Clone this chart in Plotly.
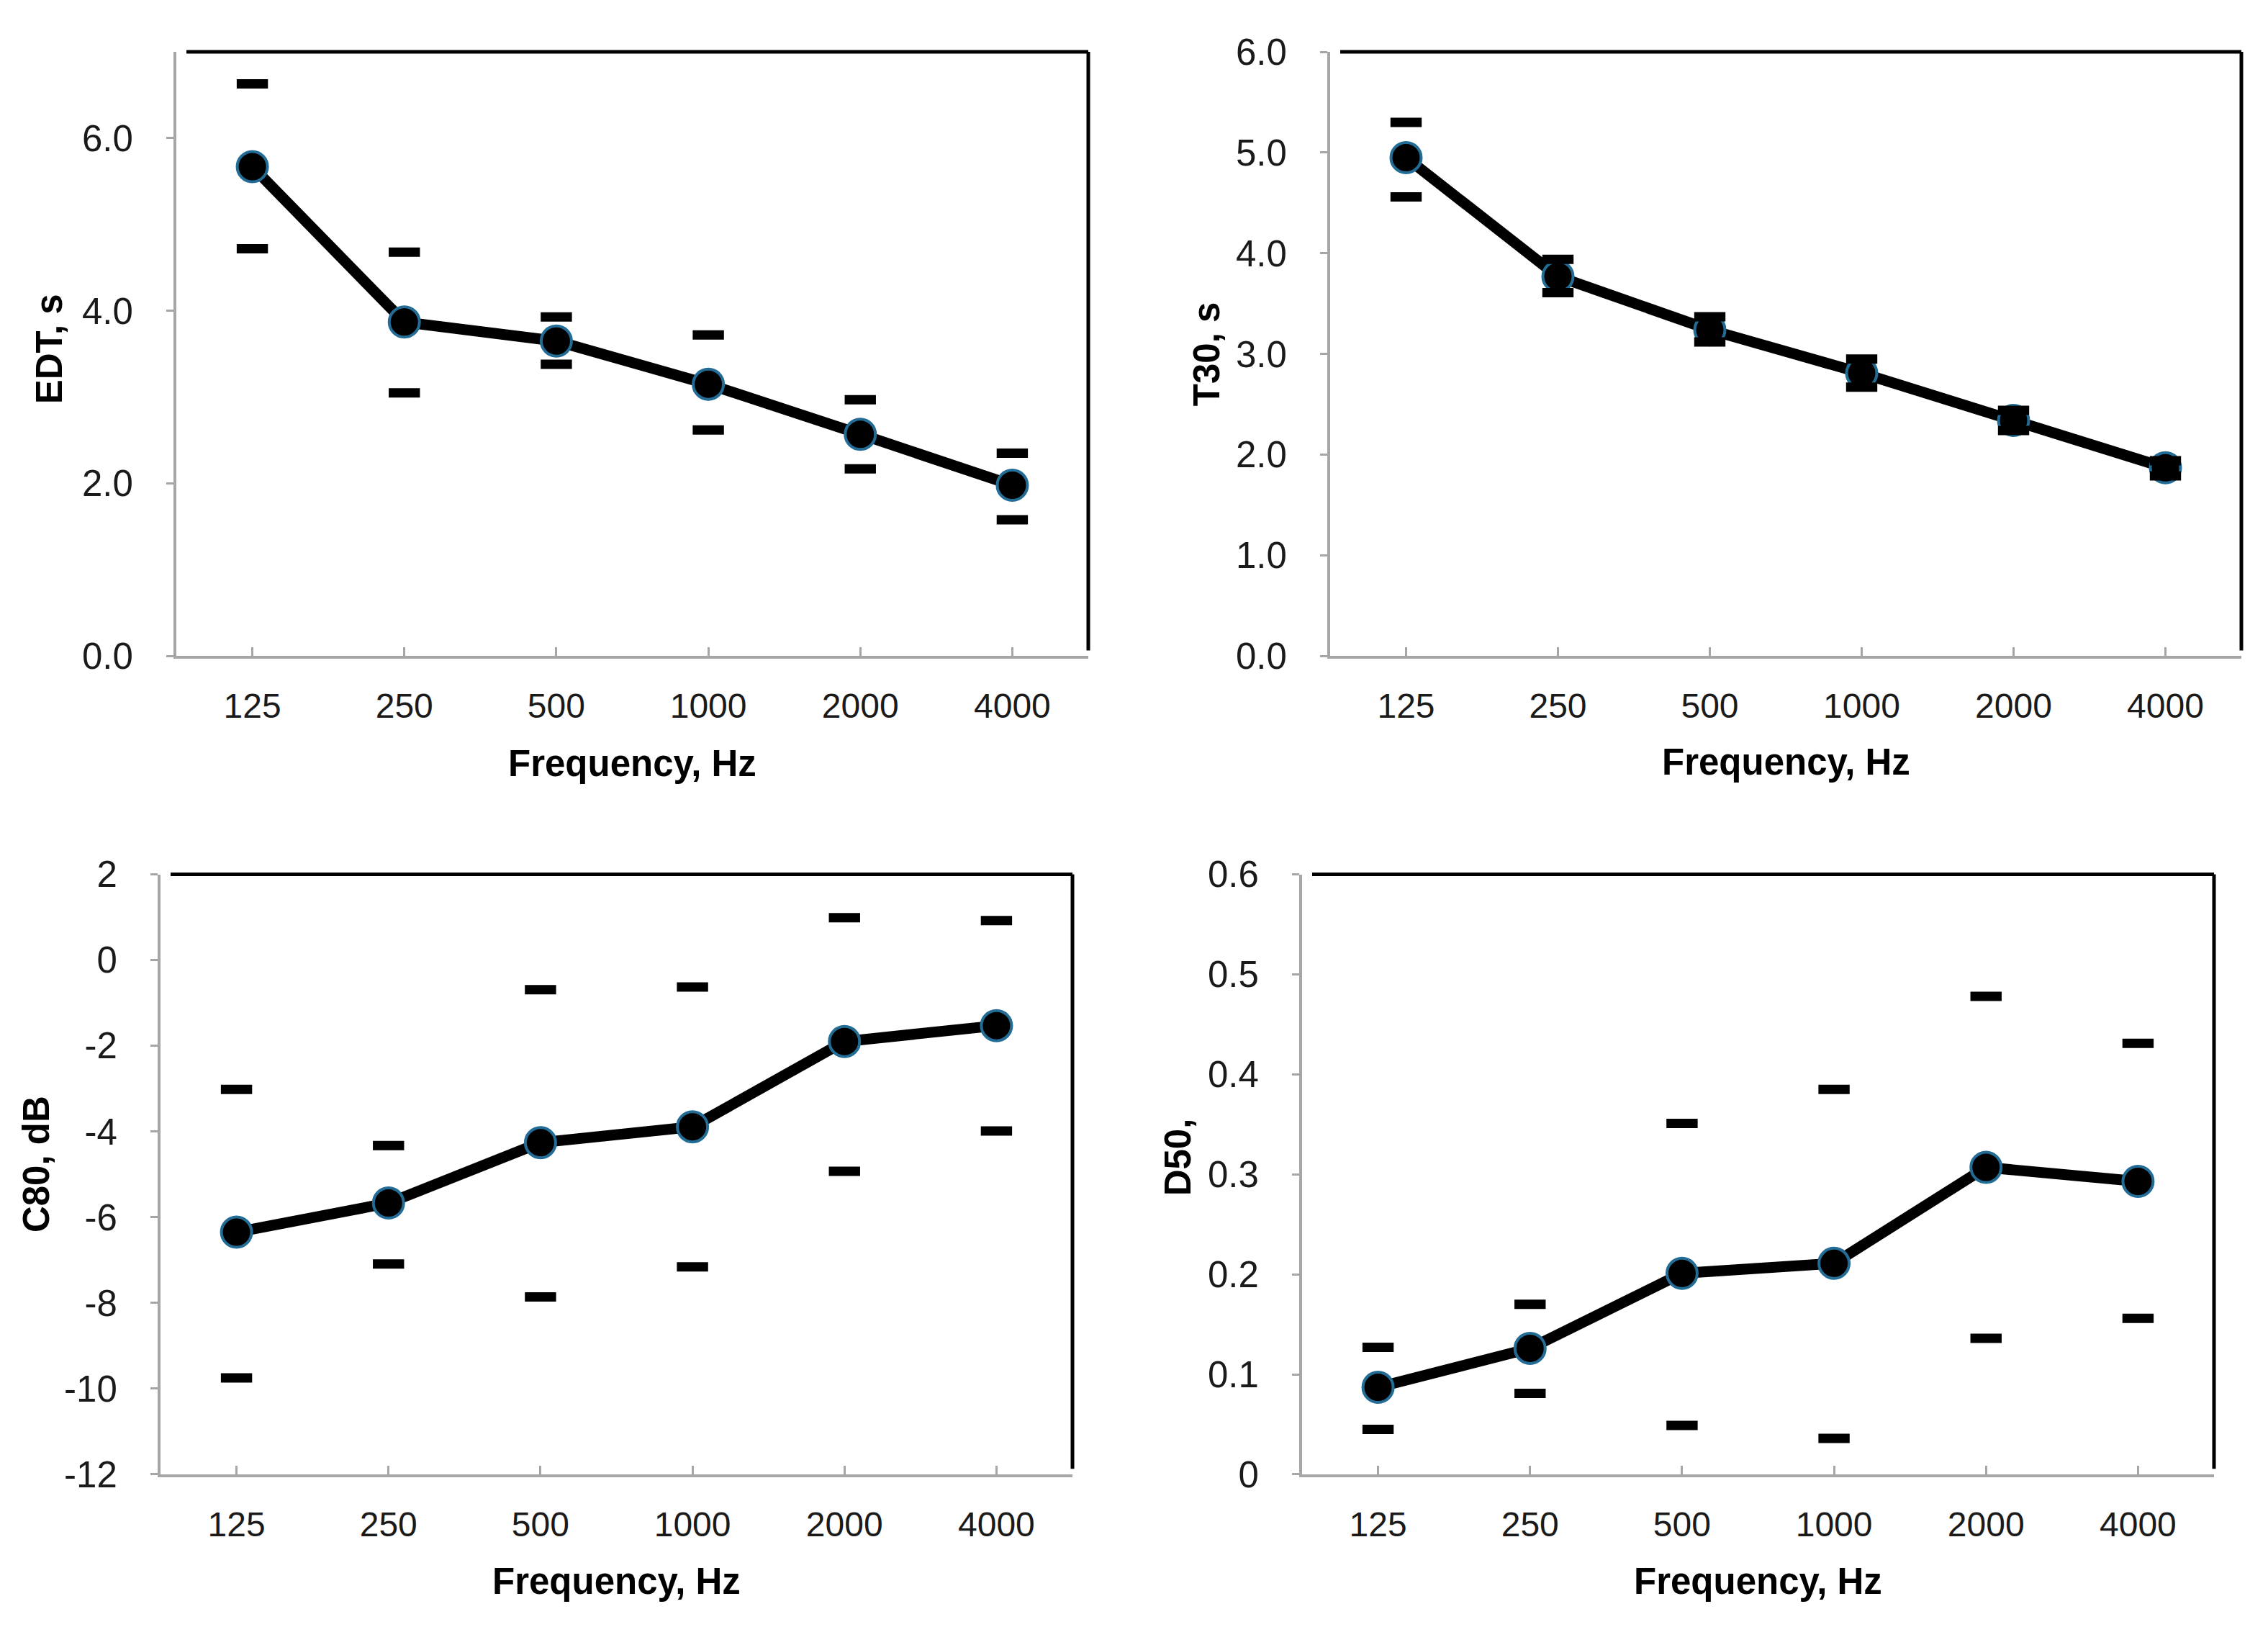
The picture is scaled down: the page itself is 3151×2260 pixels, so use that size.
import plotly.graph_objects as go
from plotly.subplots import make_subplots

freqs = ["125", "250", "500", "1000", "2000", "4000"]

edt_mean = [5.67, 3.87, 3.65, 3.15, 2.57, 1.98]
edt_upper = [6.63, 4.68, 3.93, 3.72, 2.97, 2.35]
edt_lower = [4.72, 3.05, 3.38, 2.62, 2.17, 1.58]

t30_mean = [4.95, 3.77, 3.24, 2.81, 2.34, 1.87]
t30_upper = [5.30, 3.94, 3.37, 2.95, 2.44, 1.94]
t30_lower = [4.56, 3.61, 3.12, 2.67, 2.24, 1.79]

c80_mean = [-6.35, -5.67, -4.26, -3.89, -1.90, -1.53]
c80_upper = [-3.02, -4.33, -0.69, -0.63, 0.99, 0.92]
c80_lower = [-9.75, -7.09, -7.86, -7.16, -4.93, -3.99]

d50_mean = [0.087, 0.126, 0.201, 0.211, 0.307, 0.293]
d50_upper = [0.127, 0.170, 0.351, 0.385, 0.478, 0.431]
d50_lower = [0.045, 0.081, 0.049, 0.036, 0.136, 0.156]

c80_tickvals = [-12, -10, -8, -6, -4, -2, 0, 2]
c80_ticktext = ["-12", "-10", "-8", "-6", "-4", "-2", "0", "2"]

W, H = 3151, 2260

panels = [
    dict(mean=edt_mean, up=edt_upper, lo=edt_lower, ytitle="EDT, s",
         px=(237, 1504), py=(37, 898), yrange=[0, 7], dtick=2, fmt=".1f",
         ytx=60, yty=461, xty=1051),
    dict(mean=t30_mean, up=t30_upper, lo=t30_lower, ytitle="T30, s",
         px=(1840, 3106), py=(37, 898), yrange=[0, 6], dtick=1, fmt=".1f",
         ytx=1668, yty=467, xty=1049),
    dict(mean=c80_mean, up=c80_upper, lo=c80_lower, ytitle="C80, dB",
         px=(215, 1482), py=(1209, 2064), yrange=[-12, 2], dtick=None, fmt=None,
         ytx=42, yty=1622, xty=2216),
    dict(mean=d50_mean, up=d50_upper, lo=d50_lower, ytitle="D50,",
         px=(1801, 3068), py=(1209, 2064), yrange=[0, 0.6], dtick=0.1, fmt=None,
         ytx=1628, yty=1612, xty=2216),
]

fig = make_subplots(rows=2, cols=2)

xtick_font = dict(family="Liberation Sans, Arial, sans-serif", size=48, color="#1a1a1a")
ytick_font = dict(family="Liberation Sans, Arial, sans-serif", size=51, color="#1a1a1a")
title_font = dict(family="Liberation Sans, Arial, sans-serif", size=51, color="#000000")
axis_grey = "#a6a6a6"

annotations = []
shapes = []
for i, p in enumerate(panels):
    r, c = i // 2 + 1, i % 2 + 1
    fig.add_trace(go.Scatter(
        x=freqs, y=p["mean"], mode="lines+markers",
        line=dict(color="black", width=15),
        marker=dict(symbol="circle", size=42, color="black",
                    line=dict(color="#236c96", width=4)),
        showlegend=False), row=r, col=c)
    for vals in (p["up"], p["lo"]):
        fig.add_trace(go.Scatter(
            x=freqs, y=vals, mode="markers",
            marker=dict(symbol="line-ew", size=31, line=dict(color="black", width=13)),
            showlegend=False, hoverinfo="skip"), row=r, col=c)

    xd = [p["px"][0] / W, p["px"][1] / W]
    yd = [1 - p["py"][1] / H, 1 - p["py"][0] / H]
    fig.update_xaxes(row=r, col=c, domain=xd, type="category", range=[-0.5, 5.5],
                     showline=True, linecolor=axis_grey, linewidth=4,
                     ticks="inside", ticklen=12, tickwidth=3, tickcolor=axis_grey,
                     showgrid=False, zeroline=False, tickfont=xtick_font,
                     ticklabelstandoff=24)
    yargs = dict(domain=yd, range=p["yrange"], showline=True, linecolor=axis_grey,
                 linewidth=4, ticks="outside", ticklen=10, tickwidth=3,
                 tickcolor=axis_grey, showgrid=False, zeroline=False,
                 tickfont=ytick_font, ticklabelstandoff=36)
    if p["dtick"] is not None:
        yargs.update(tick0=p["yrange"][0], dtick=p["dtick"])
    else:
        yargs.update(tickmode="array", tickvals=c80_tickvals, ticktext=c80_ticktext)
    if p["fmt"]:
        yargs.update(tickformat=p["fmt"])
    fig.update_yaxes(row=r, col=c, **yargs)

    # Black top and right plot-area border
    shapes.append(dict(type="line", xref="paper", yref="paper",
                       x0=xd[0] + 14 / W, x1=xd[1], y0=yd[1], y1=yd[1],
                       line=dict(color="black", width=5)))
    shapes.append(dict(type="line", xref="paper", yref="paper",
                       x0=xd[1], x1=xd[1], y0=yd[0] + 8 / H, y1=yd[1],
                       line=dict(color="black", width=5)))

    annotations.append(dict(text="<b>Frequency, Hz</b>", xref="paper", yref="paper",
                            x=(xd[0] + xd[1]) / 2, y=1 - p["xty"] / H,
                            xanchor="center", yanchor="middle", showarrow=False,
                            font=title_font))
    annotations.append(dict(text="<b>" + p["ytitle"] + "</b>", xref="paper", yref="paper",
                            x=p["ytx"] / W, y=1 - p["yty"] / H, textangle=-90,
                            xanchor="center", yanchor="middle", showarrow=False,
                            font=title_font))

fig.update_layout(width=W, height=H, margin=dict(l=0, r=0, t=0, b=0),
                  paper_bgcolor="white", plot_bgcolor="white",
                  annotations=annotations, shapes=shapes, showlegend=False)

fig.write_html("out.html")
